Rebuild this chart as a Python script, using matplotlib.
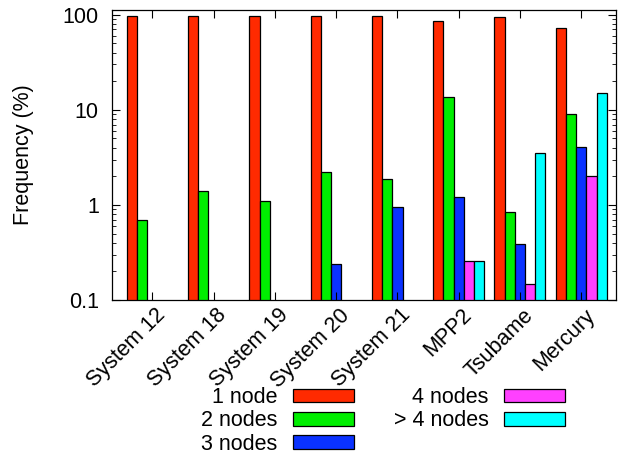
import numpy as np
import matplotlib
matplotlib.use("Agg")
import matplotlib.pyplot as plt
from matplotlib.transforms import ScaledTranslation

plt.rcParams["font.family"] = ["Liberation Sans", "DejaVu Sans"]

systems = ["System 12", "System 18", "System 19", "System 20", "System 21",
           "MPP2", "Tsubame", "Mercury"]
labels = ["1 node", "2 nodes", "3 nodes", "4 nodes", "> 4 nodes"]

nan = np.nan
one_node = [98, 98, 98, 97, 97, 86, 95, 72]
two_nodes = [0.70, 1.39, 1.09, 2.22, 1.89, 13.5, 0.84, 9.1]
three_nodes = [nan, nan, nan, 0.24, 0.95, 1.22, 0.385, 4.05]
four_nodes = [nan, nan, nan, nan, nan, 0.26, 0.148, 2.0]
more_nodes = [nan, nan, nan, nan, nan, 0.26, 3.55, 15.1]

series = [one_node, two_nodes, three_nodes, four_nodes, more_nodes]
colors = ["#ff2a00", "#00ee00", "#0a32ff", "#ff40ff", "#00ffff"]
fs = 15.5

fig = plt.figure(figsize=(6.18, 4.54), dpi=100)
ax = fig.add_axes([0.181, 0.339, 0.816, 0.639])

x = np.arange(len(systems))
w = 1 / 6
for i, (vals, c, lab) in enumerate(zip(series, colors, labels)):
    ax.bar(x + (i - 2) * w, vals, width=w, color=c, edgecolor="black",
           linewidth=0.9, label=lab)

ax.set_yscale("log")
ax.set_ylim(0.1, 112)
ax.set_xlim(-0.66, 7.57)
ax.set_yticks([0.1, 1, 10, 100])
ax.set_yticklabels(["0.1", "1", "10", "100"])
ax.set_xticks(x)
ax.set_xticklabels(systems, rotation=45, ha="right", va="baseline",
                   rotation_mode="anchor")
ax.tick_params(axis="both", which="both", direction="in", top=True, right=True,
               labelsize=fs)
ax.tick_params(axis="both", which="major", length=6, width=0.8)
ax.tick_params(axis="y", which="major", pad=9.4)
ax.tick_params(axis="x", which="major", pad=11.5)
ax.tick_params(axis="y", which="minor", length=3, width=0.6)
ax.tick_params(axis="x", which="minor", bottom=False, top=False)

# gnuplot-style rotated labels sit a little right of their tick
shift = ScaledTranslation(14 / 100, 0, fig.dpi_scale_trans)
for lbl in ax.get_xticklabels():
    lbl.set_transform(lbl.get_transform() + shift)

ax.set_ylabel("Frequency (%)", fontsize=fs, labelpad=21)
for s in ax.spines.values():
    s.set_linewidth(0.9)

ax.legend(loc="center", bbox_to_anchor=(0.62, 0.073), bbox_transform=fig.transFigure,
          ncol=2, frameon=False, markerfirst=False, fontsize=fs,
          handlelength=2.85, handleheight=0.6, labelspacing=0.1,
          columnspacing=1.85, handletextpad=0.7, borderpad=0)

fig.savefig("out.png", dpi=100)
